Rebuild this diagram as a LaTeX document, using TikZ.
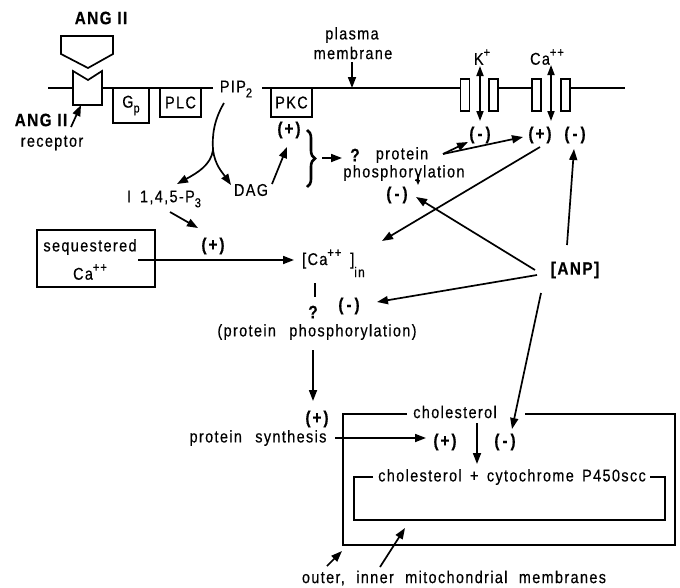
\documentclass[tikz,border=0pt]{standalone}
\usepackage{fontspec}
\setmainfont{Liberation Sans}[FakeStretch=0.85,LetterSpace=8,FakeBold=0.4]
\usetikzlibrary{arrows.meta,decorations.pathreplacing}
\newcommand\lsub[1]{\raisebox{-5pt}{\fontsize{13}{13}\selectfont #1}}
\newcommand\lsup[1]{\raisebox{8pt}{\fontsize{13}{13}\selectfont #1}}
\newcommand\pl{(\hspace{2pt}+\hspace{2pt})}
\newcommand\mi{(\hspace{3pt}-\hspace{3pt})}
\tikzset{
  lbl/.style={inner sep=0pt,font=\fontsize{17}{19}\selectfont},
  bld/.style={inner sep=0pt,font=\fontsize{18}{20}\selectfont\bfseries},
  ln/.style={line width=1.7pt},
  arr/.style={line width=1.7pt,-{Triangle[length=11pt,width=8pt]}},
  darr/.style={line width=1.7pt,{Triangle[length=10pt,width=7pt]}-{Triangle[length=10pt,width=7pt]}},
  mem/.style={line width=2pt},
  boxn/.style={draw,line width=1.5pt,inner sep=0pt,font=\fontsize{17}{19}\selectfont},
  chan/.style={draw,line width=1.5pt,fill=white,minimum width=9pt,minimum height=32pt,inner sep=0pt},
}
\begin{document}
\begin{tikzpicture}[x=1pt,y=-1pt]
\useasboundingbox (0,0) rectangle (680,587);

% ---------- plasma membrane ----------
\coordinate (m1) at (48,88);  \coordinate (m2) at (73,88);
\coordinate (m3) at (102,88); \coordinate (m4) at (213,88);
\coordinate (m5) at (262,88); \coordinate (m6) at (460,88);
\coordinate (m7) at (498,88); \coordinate (m8) at (532,88);
\coordinate (m9) at (570,88); \coordinate (m10) at (625,88);
\draw[mem] (m1) -- (m2) (m3) -- (m4) (m5) -- (m6) (m7) -- (m8) (m9) -- (m10);

% ANG II ligand and receptor
\node[bld] (angtop) at (101,18) {ANG II};
\draw[ln,line join=miter] (61,36) -- (113,36) -- (113,54) -- (88,68) -- (61,54) -- cycle;
\draw[ln,fill=white,line join=miter] (73,71) -- (88,80) -- (102,71) -- (102,105) -- (73,105) -- cycle;
\coordinate (recb) at (81,105);
\node[bld] (angrec) at (41,120) {ANG II};
\node[lbl] (rectxt) at (52,143) {receptor};
\coordinate (recarr) at (71,127);
\draw[arr] (recarr) -- (recb);

% Gp, PLC, PKC
\node[boxn,minimum width=36pt,minimum height=35pt] (gp) at (131,105.5) {G\lsub{p}};
\node[boxn,minimum width=41pt,minimum height=29pt] (plc) at (180.5,102.5) {PLC};
\node[boxn,minimum width=41pt,minimum height=29pt] (pkc) at (291.5,102.5) {PKC};

% PIP2
\node[lbl] (pip) at (236,89) {PIP\lsub{2}};
\coordinate (pipb) at (224,103);
\coordinate (junc) at (213,150);
\coordinate (ip3t) at (177,184);
\coordinate (dagt) at (231,185);
\draw[ln] (pipb) .. controls (214,120) and (212,135) .. (junc);
\draw[arr] (junc) .. controls (211,165) and (197,173) .. (ip3t);
\draw[arr] (junc) .. controls (215,165) and (222,172) .. (dagt);

\node[lbl] (dag) at (251,190) {DAG};
\node[bld] (pkcplus) at (289,130) {\pl};
\coordinate (dagA) at (272,184); \coordinate (dagB) at (287,147);
\draw[arr] (dagA) -- (dagB);

% brace and protein phosphorylation
\coordinate (brT) at (307,130); \coordinate (brB) at (307,187);
\draw[line width=2.6pt,decorate,decoration={brace,amplitude=8pt}] (brT) -- (brB);
\coordinate (brA) at (322,158); \coordinate (brC) at (342,158);
\draw[arr] (brA) -- (brC);
\node[bld] (q1) at (355,155) {?};
\node[lbl] (prot) at (402,155) {protein};
\node[lbl] (phos) at (404,173) {phosphorylation};
\node[bld] (pminus) at (397,195) {\mi};
\coordinate (tinyA) at (418,174); \coordinate (tinyB) at (418,185);
\draw[line width=1.2pt,-{Triangle[length=5pt,width=4pt]}] (tinyA) -- (tinyB);

% plasma membrane label
\node[lbl] (plasma) at (352,35) {plasma};
\node[lbl] (membr) at (353,53) {membrane};
\coordinate (plA) at (352,62); \coordinate (plB) at (352,88);
\draw[arr] (plA) -- (plB);

% channels
\node[chan] (k1) at (465,95) {};
\node[chan] (k2) at (493.5,95) {};
\node[chan] (c1) at (536.5,95) {};
\node[chan] (c2) at (565.5,95) {};
\coordinate (kT) at (480,66); \coordinate (kB) at (480,121);
\coordinate (cT) at (551,65); \coordinate (cB) at (551,121);
\draw[darr] (kT) -- (kB);
\draw[darr] (cT) -- (cB);
\node[lbl] (klab) at (482,57) {K\lsup{+}};
\node[lbl] (calab) at (547,57) {Ca\lsup{++}};
\node[bld] (kminus) at (480,135) {\mi};
\node[bld] (caplus) at (540,135) {\pl};
\node[bld] (caminus) at (575,135) {\mi};
\coordinate (ppO) at (443,154);
\coordinate (ppK) at (468,142);
\coordinate (ppC) at (523,137);
\draw[arr] (ppO) -- (ppK);
\draw[arr] (ppO) -- (ppC);

% IP3 and sequestered Ca
\node[lbl] (ip3) at (164,199) {I\hspace{9pt}1,4,5-P\lsub{3}};
\coordinate (ip3A) at (170,212); \coordinate (ip3B) at (198,228);
\draw[arr] (ip3A) -- (ip3B);
\node[draw,line width=1.5pt,minimum width=118pt,minimum height=57pt,inner sep=0pt] (seqbox) at (96,258.5) {};
\node[lbl] (seq1) at (90,247) {sequestered};
\node[lbl] (seq2) at (90,272) {Ca\lsup{++}};
\node[bld] (seqplus) at (213,246) {\pl};
\coordinate (seqA) at (138,260); \coordinate (seqB) at (294,260);
\draw[arr] (seqA) -- (seqB);

% [Ca++]in
\node[lbl,anchor=base west] (cain) at (302,265) {[Ca\lsup{++}\hspace{9pt}]\raisebox{-12pt}{\fontsize{14}{14}\selectfont in}};
\coordinate (caA) at (540,147); \coordinate (caB) at (382,241);
\draw[arr] (caA) -- (caB);
\coordinate (vl1) at (315,283); \coordinate (vl2) at (315,297);
\draw[ln] (vl1) -- (vl2);
\node[bld] (q2) at (313,312) {?};
\node[bld] (cminus) at (349,306) {\mi};
\node[lbl] (pp2) at (317,332) {(protein\hspace{8pt} phosphorylation)};
\coordinate (ppA) at (313,350); \coordinate (ppB) at (313,401);
\draw[arr] (ppA) -- (ppB);

% ANP
\node[bld] (anp) at (575,270) {[ANP]};
\coordinate (anp1) at (535,270); \coordinate (anp1t) at (416,197);
\coordinate (anp2) at (537,275); \coordinate (anp2t) at (377,302);
\coordinate (anp3) at (567,245); \coordinate (anp3t) at (574,149);
\coordinate (anp4) at (541,293); \coordinate (anp4t) at (512,429);
\draw[arr] (anp1) -- (anp1t);
\draw[arr] (anp2) -- (anp2t);
\draw[arr] (anp3) -- (anp3t);
\draw[arr] (anp4) -- (anp4t);

% protein synthesis
\node[bld] (psplus) at (317,419) {\pl};
\node[lbl] (psyn) at (258,438) {protein\hspace{8pt} synthesis};
\coordinate (psA) at (335,438); \coordinate (psB) at (426,438);
\draw[arr] (psA) -- (psB);

% mitochondrion
\draw[line width=1.5pt] (407,414) -- (343,414) -- (343,545) -- (675,545) -- (675,414) -- (525,414);
\node[lbl] (chol) at (455,412) {cholesterol};
\node[bld] (mplus) at (445,442) {\pl};
\node[bld] (mminus) at (505,442) {\mi};
\coordinate (chA) at (477,423); \coordinate (chB) at (477,464);
\draw[arr] (chA) -- (chB);
\draw[line width=1.5pt] (373,477) -- (354,477) -- (354,520) -- (665,520) -- (665,477) -- (650,477);
\node[lbl] (cyto) at (512,477) {cholesterol\hspace{3pt} +\hspace{3pt} cytochrome\hspace{3pt} P450scc};
\node[lbl] (memb) at (454,578) {outer,\hspace{6pt} inner\hspace{6pt} mitochondrial\hspace{6pt} membranes};
\coordinate (oA) at (327,566); \coordinate (oB) at (342,551);
\coordinate (iA) at (380,567); \coordinate (iB) at (405,528);
\draw[arr] (oA) -- (oB);
\draw[arr] (iA) -- (iB);
\end{tikzpicture}
\end{document}
